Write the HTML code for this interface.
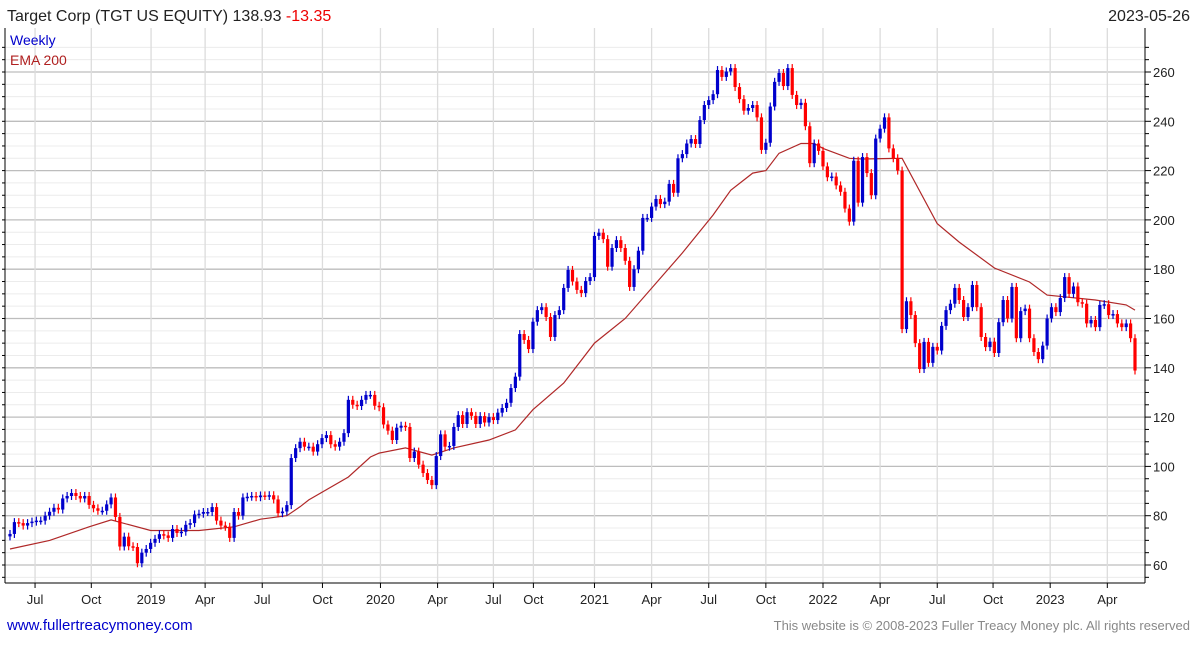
<!DOCTYPE html>
<html><head><meta charset="utf-8"><style>
body{margin:0;background:#fff;width:1195px;height:640px;overflow:hidden;font-family:"Liberation Sans",sans-serif}
svg text{font-family:"Liberation Sans",sans-serif}
</style></head><body>
<svg id="chart" width="1195" height="640" xmlns="http://www.w3.org/2000/svg">
<text x="7" y="21" font-size="16" fill="#222">Target Corp (TGT US EQUITY) 138.93 <tspan fill="#e00">-13.35</tspan></text>
<text x="1190" y="21" font-size="16" fill="#222" text-anchor="end">2023-05-26</text>
<g id="grid"></g>
<g id="ema"></g>
<g id="candles"></g>
<g id="axes"></g>
<text x="10" y="45" font-size="14" fill="#0000cc">Weekly</text>
<text x="10" y="65" font-size="14" fill="#b02020">EMA 200</text>
<text x="7" y="630" font-size="15" fill="#0000cc">www.fullertreacymoney.com</text>
<text x="1190" y="630" font-size="13" fill="#888" text-anchor="end">This website is © 2008-2023 Fuller Treacy Money plc. All rights reserved</text>
</svg>
<script>
const closes = [72.6,77.4,77,76,77,77.6,78,78,80,81.6,83.2,82.5,87,88,89.2,88,87,88,84.4,83,82,82,84.6,87.4,79.5,67.5,71.5,67.6,67.3,60.7,65,66.5,69,70.6,72.5,72,71,74.6,73,73.5,76.3,77,80.5,80.8,81.5,81.5,83.5,78,76,75.5,71,81.5,80,87.4,87.7,88,87.5,88.2,88,88.3,86.6,81,81.7,84.3,103.4,107.4,110,
108,108,106,109,111.5,112.7,109,108,110,113.5,127,125,124.5,127,129,129,124.6,124,117,114.5,110.7,115.7,116.5,116,103.4,106,100.7,97.3,94.5,92.4,104.2,113,108,108.3,116,120.8,117.2,122,120.5,117.2,120.4,117.8,120,118.8,121.8,123.7,125.8,131.8,136.4,153.7,151.3,147.6,158.7,163.4,164.6,160.6,152.5,161.4,163.4,172.4,179.7,175,171.6,170.3,175.2,176.8,193.5,194.8,
192.2,181,188.6,191.8,188.6,183.4,172.8,180,187.5,200.8,200.8,205.4,208.5,206.4,207.4,214.6,211,225,226.7,231,232.8,230.8,240.5,246.6,248.6,251,260.8,258,260.2,261.6,253.9,249,244.3,245.4,246.6,241.6,228.4,231.3,246,256,259.6,254.3,261.6,250.7,246.6,247.5,238,223,231,228,221.7,217.3,217.6,214,211.4,204.6,199.3,224,207,
225.5,219,210,233,237,241.6,229,225,220,155.7,167,161.4,150,139.5,150.5,142,148.5,147,157,163.4,166,172.4,167.5,160.6,164.6,173.6,164.6,152.5,148.4,150.6,146,158.5,167.5,160,172.8,152,163,164,152,146.4,143.5,149,160,164.6,162.6,168.3,176.8,170,173,166.6,166,158,159.4,156.5,165.5,165.8,161.4,161.8,158,156.5,158,152,138.9];
const emaWeeks = [0,9,18,23,32,43,51,57,63,66,68,77,82,84,90,96,101,109,115,119,126,133,140,153,160,164,169,172,175,180,183,185,191,194,203,211,216,224,232,236,247,254,256];
const emaValues = [66.5,70,75.5,78.3,74,74,75.5,78.6,80,83.6,86.4,95.7,103.8,105.4,107.5,104.6,107.5,110.7,114.8,123,133.8,150,160,186.6,202,212,219,220,227,231,231,229,225,224.7,225,198.5,191,180.5,174.8,169.5,167.5,165.5,163.4];
const yTicks = [60,80,100,120,140,160,180,200,220,240,260];
const xTickLabels = ["Jul","Oct","2019","Apr","Jul","Oct","2020","Apr","Jul","Oct","2021","Apr","Jul","Oct","2022","Apr","Jul","Oct","2023","Apr"];
const xTickWeeks = [5.7,18.5,32.1,44.4,57.4,71.1,84.3,97.3,110,119.1,133,146,159,172,185,198,211,223.7,236.7,249.7];

const NS="http://www.w3.org/2000/svg";
const L=5,R=1145,T=28,B=583;
const x0=10,x1=1135;
const xs=i=>x0+i*(x1-x0)/(closes.length-1);
const ys=v=>565-(v-60)*2.465;
function mk(tag,attrs,parent){const e=document.createElementNS(NS,tag);for(const k in attrs)e.setAttribute(k,attrs[k]);parent.appendChild(e);return e;}
const grid=document.getElementById('grid'),axes=document.getElementById('axes'),cg=document.getElementById('candles'),eg=document.getElementById('ema');
for(let v=55;v<=270;v+=5){const y=ys(v);if(y<T||y>B)continue;const major=v%20===0;
 const ln=mk('line',{x1:L,x2:R,y1:y,y2:y,stroke:major?'#bdbdbd':'#ececec','stroke-width':major?1.3:1},grid);
 
 
 const tk=mk('line',{x1:R,x2:R+(major?6:4),y1:y,y2:y,stroke:'#000'},axes);
 
 }
yTicks.forEach(v=>{const t=mk('text',{x:R+8,y:ys(v)+5,'font-size':13,fill:'#222'},axes);t.textContent=v;
 
 });
xTickWeeks.forEach((w,i)=>{const x=xs(w);
 const ln=mk('line',{x1:x,x2:x,y1:T,y2:B,stroke:'#dcdcdc','stroke-width':1.3},grid);
 
 
 const tk=mk('line',{x1:x,x2:x,y1:B,y2:B+5,stroke:'#000'},axes);
 
 
 const t=mk('text',{x:x,y:604,'font-size':13,fill:'#222','text-anchor':'middle'},axes);t.textContent=xTickLabels[i];
 
 });
const ax=mk('line',{x1:R,x2:R,y1:T,y2:B,stroke:'#000'},axes);


const bx=mk('line',{x1:L,x2:R,y1:B,y2:B,stroke:'#000'},axes);


const lx=mk('line',{x1:L,x2:L,y1:T,y2:B,stroke:'#000'},axes);


for(let v=55;v<=270;v+=5){const y=ys(v);if(y<T||y>B)continue;const t=mk('line',{x1:L-3,x2:L,y1:y,y2:y,stroke:'#000'},axes);
 
 }
let d='';emaWeeks.forEach((w,i)=>{d+=(i?'L':'M')+xs(w).toFixed(1)+' '+ys(emaValues[i]).toFixed(1);});
const p=mk('path',{d:d,fill:'none',stroke:'#b02828','stroke-width':1.2},eg);


closes.forEach((c,i)=>{const o=i?closes[i-1]:c-1;const up=c>=o;const col=up?'#0000cc':'#ff0000';const x=xs(i);
 const hi=Math.max(o,c),lo=Math.min(o,c);
 const w=mk('line',{x1:x,x2:x,y1:ys(hi)-4,y2:ys(lo)+4,stroke:col,'stroke-width':1.2},cg);
 
 
 const h=Math.max(1.5,ys(lo)-ys(hi));
 const r=mk('rect',{x:x-1.6,y:ys(hi),width:3.2,height:h,fill:col},cg);
 
 });
</script>
</body></html>
